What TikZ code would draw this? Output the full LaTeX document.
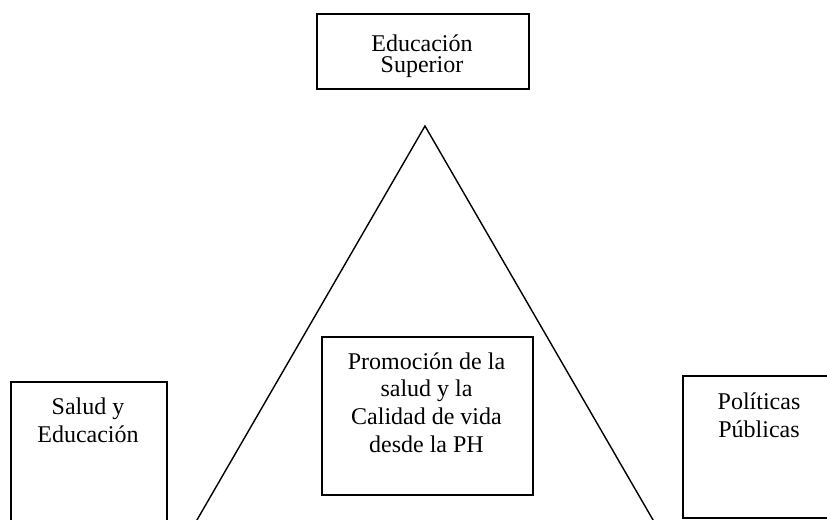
\documentclass[tikz,border=0pt]{standalone}
\usepackage{fontspec}
\setmainfont{Liberation Serif}
\begin{document}
\begin{tikzpicture}[x=0.5pt,y=-0.5pt,
  box/.style={draw,line width=0.8pt,inner sep=0,anchor=north west},
  lbl/.style={font=\fontsize{12}{13.8}\selectfont,align=center,anchor=base,inner sep=0},
  tri/.style={line width=0.7pt}]
\useasboundingbox (0,0) rectangle (827,520);
\clip (0,0) rectangle (827,520);
% boxes
\node[box,minimum width=106pt,minimum height=37.5pt] (top) at (316,13) {};
\node[box,minimum width=78pt,minimum height=80pt] (left) at (10,381) {};
\node[box,minimum width=77pt,minimum height=71pt] (right) at (682,375) {};
\node[box,minimum width=105.5pt,minimum height=79pt] (mid) at (321,336) {};
% triangle
\coordinate (apex) at (425,126);
\coordinate (bl) at (135.6,626);
\coordinate (br) at (714.4,626);
\draw[tri] (bl) -- (apex) -- (br);
% texts (base anchor = baseline of last line)
\node[lbl,font=\fontsize{12}{10.5}\selectfont] (topText) at (422,72) {Educación\\Superior};
\node[lbl] (leftText) at (88,442) {Salud y\\Educación};
\node[lbl] (rightText) at (759,437) {Políticas\\Públicas};
\node[lbl] (midText) at (426.5,452) {Promoción de la\\salud y la\\Calidad de vida\\desde la PH};
\end{tikzpicture}
\end{document}
